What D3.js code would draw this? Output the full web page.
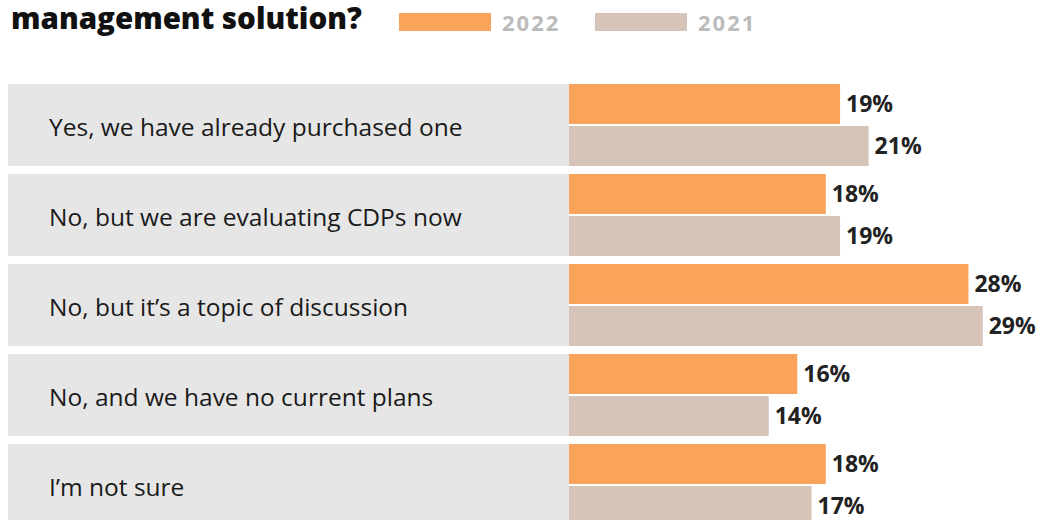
<!DOCTYPE html>
<html>
<head>
<meta charset="utf-8">
<script src="https://cdn.jsdelivr.net/npm/d3@7"></script>
<style>
  html, body { margin: 0; padding: 0; background: #ffffff; }
  svg { display: block; }
</style>
</head>
<body>
<svg id="chart" width="1040" height="520"></svg>
<script>
// Survey answers and the share of respondents per year
const categories = [
  "Yes, we have already purchased one",
  "No, but we are evaluating CDPs now",
  "No, but it\u2019s a topic of discussion",
  "No, and we have no current plans",
  "I\u2019m not sure"
];
const seriesNames = ["2022", "2021"];
const values2022 = [19, 18, 28, 16, 18];
const values2021 = [21, 19, 29, 14, 17];
const titleLine = "management solution?";

const colors = { "2022": "#F9A45A", "2021": "#D7C4B9" };
const font = "'Open Sans', 'Noto Sans', sans-serif";

const svg = d3.select("#chart");

const rows = categories.map((c, i) => ({
  category: c,
  values: [
    { series: "2022", value: values2022[i] },
    { series: "2021", value: values2021[i] }
  ]
}));

// Layout
const panelLeft = 8;
const barLeft = 569;

const y = d3.scaleBand()
  .domain(categories)
  .range([84, 526])
  .paddingInner(8 / 90)
  .paddingOuter(0);

const ySub = d3.scaleBand()
  .domain(seriesNames)
  .range([0, y.bandwidth()])
  .paddingInner(2 / 41)
  .paddingOuter(0);

const x = d3.scaleLinear()
  .domain([0, 30])
  .range([barLeft, barLeft + 428]);

// Title (last line visible at top)
svg.append("text")
  .attr("x", 11)
  .attr("y", 28.5)
  .attr("font-family", font)
  .attr("font-weight", 800)
  .attr("font-size", 29.5)
  .attr("fill", "#111111")
  .text(titleLine);

// Legend
const legend = svg.append("g");
const legendX = { "2022": 399, "2021": 595 };
seriesNames.forEach(s => {
  legend.append("rect")
    .attr("x", legendX[s])
    .attr("y", 13)
    .attr("width", 92)
    .attr("height", 18)
    .attr("fill", colors[s]);
  legend.append("text")
    .attr("x", legendX[s] + 103)
    .attr("y", 31)
    .attr("font-family", font)
    .attr("font-weight", 700)
    .attr("font-size", 22)
    .attr("letter-spacing", 2)
    .attr("fill", "#BBBBBB")
    .text(s);
});

// Rows
const row = svg.selectAll("g.row")
  .data(rows)
  .join("g")
  .attr("class", "row")
  .attr("transform", d => `translate(0,${y(d.category)})`);

row.append("rect")
  .attr("x", panelLeft)
  .attr("y", 0)
  .attr("width", barLeft - panelLeft)
  .attr("height", y.bandwidth())
  .attr("fill", "#E6E6E6");

row.append("text")
  .attr("x", 49)
  .attr("y", y.bandwidth() / 2 + 11)
  .attr("font-family", font)
  .attr("font-size", 24.5)
  .attr("fill", "#1A1A1A")
  .text(d => d.category);

const bar = row.selectAll("g.bar")
  .data(d => d.values)
  .join("g")
  .attr("class", "bar")
  .attr("transform", d => `translate(0,${ySub(d.series)})`);

bar.append("rect")
  .attr("x", x(0))
  .attr("y", 0)
  .attr("width", d => x(d.value) - x(0))
  .attr("height", ySub.bandwidth())
  .attr("fill", d => colors[d.series]);

bar.append("text")
  .attr("x", d => x(d.value) + 6)
  .attr("y", ySub.bandwidth() / 2 + 8)
  .attr("font-family", font)
  .attr("font-weight", 700)
  .attr("font-size", 23)
  .attr("fill", "#222222")
  .text(d => d.value + "%");
</script>
</body>
</html>
